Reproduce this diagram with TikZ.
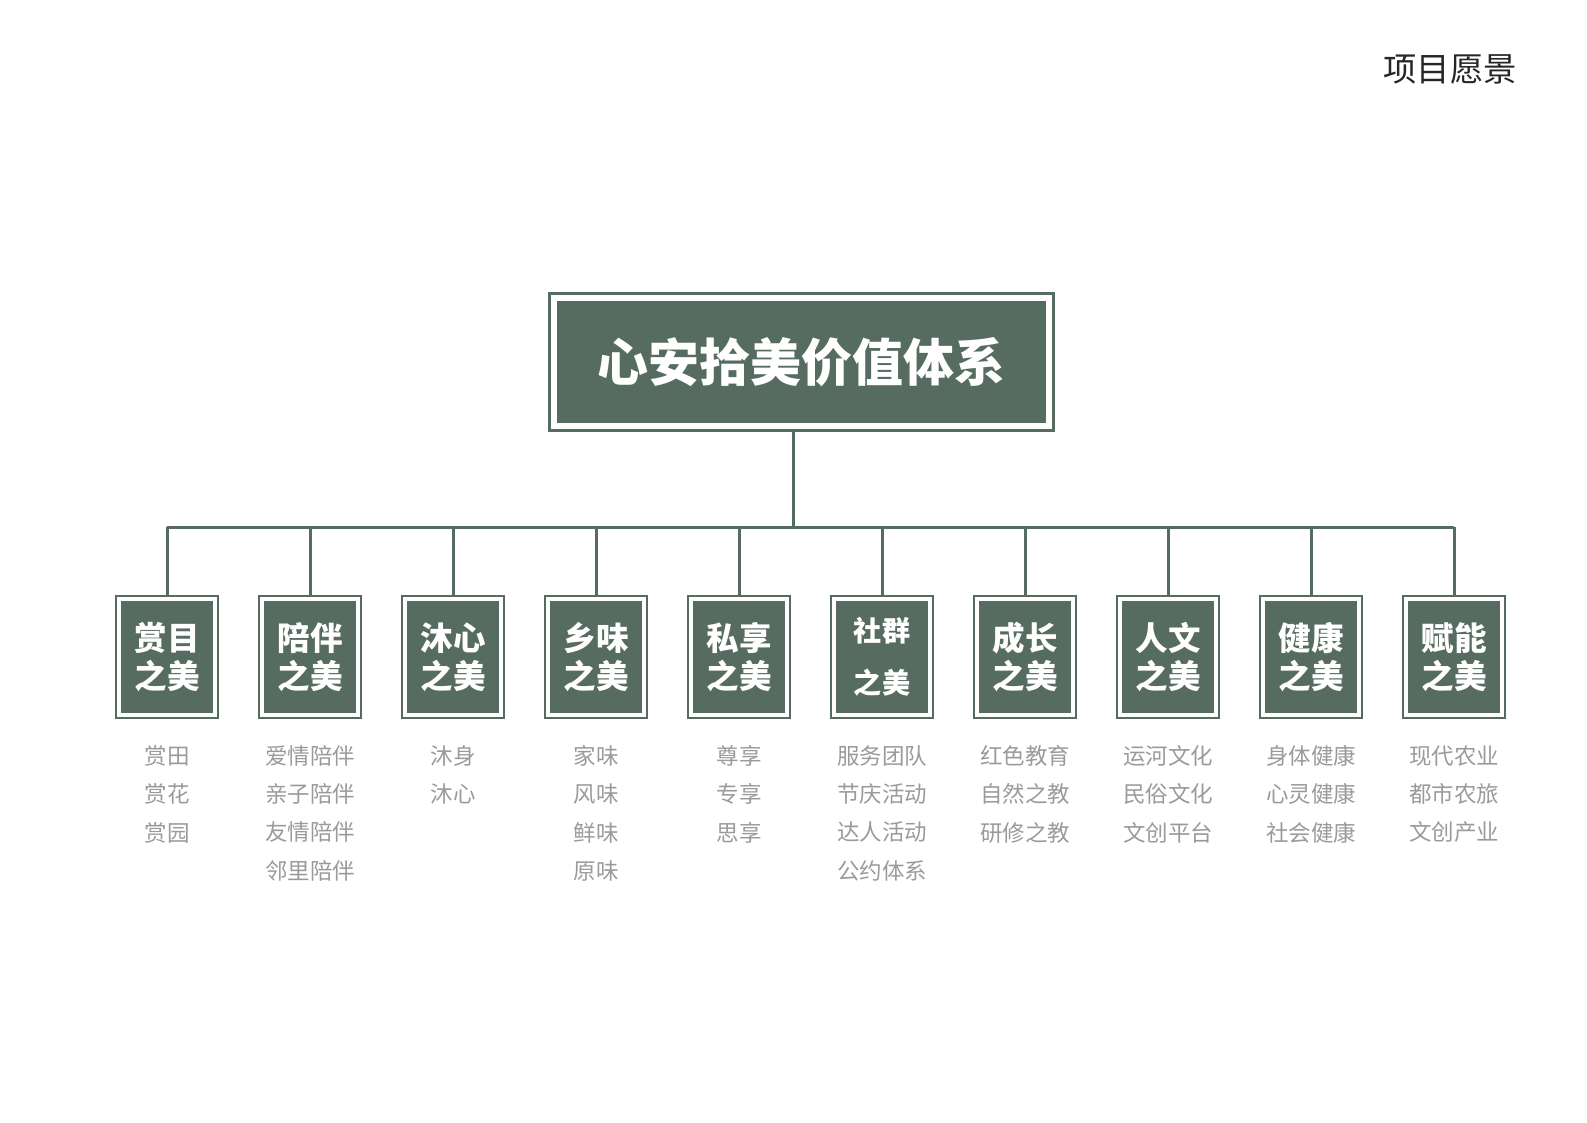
\documentclass[tikz,border=0pt]{standalone}
\usepackage{fontspec}
\setmainfont{Noto Sans CJK SC}
\usepackage{tikz}
\definecolor{sage}{HTML}{576C60}
\definecolor{listgray}{HTML}{9A9A9A}

\begin{document}
\begin{tikzpicture}[x=0.02cm,y=-0.02cm,
    framebox/.style={draw=sage,fill=sage,double=white,inner sep=0pt},
    headbox/.style={framebox,line width=0.05cm,double distance=0.12cm,
      minimum width=9.92cm,minimum height=2.58cm,outer sep=0.11cm,
      text=white,font=\bfseries\fontsize{29}{34}\selectfont},
    kidbox/.style={framebox,line width=0.04cm,double distance=0.08cm,
      minimum width=1.92cm,minimum height=2.32cm,outer sep=0.08cm,
      text=white,align=center,font=\bfseries\fontsize{18.5}{21.8}\selectfont},
    widekid/.style={kidbox,font=\bfseries\fontsize{16}{29.8}\selectfont},
    itemlist/.style={anchor=north,inner sep=0pt,align=center,text=listgray,
      font=\fontsize{12.8}{21.8}\selectfont},
    link/.style={draw=sage,line width=0.06cm}]
  \useasboundingbox (0,0) rectangle (1587,1123);
  % title in the corner
  \node[text=black!85,font=\fontsize{19}{22}\selectfont] (caption) at (1450,69) {项目愿景};
  % root box
  \node[headbox] (root) at (801.5,362) {心安拾美价值体系};
  \coordinate (hub) at (793,527);
  \draw[link] (root.south -| hub) -- (hub);
  % the ten branches
  \foreach \i/\nm/\lst/\sty in {
      0/{赏目\\之美}/{赏田\\赏花\\赏园}/kidbox,
      1/{陪伴\\之美}/{爱情陪伴\\亲子陪伴\\友情陪伴\\邻里陪伴}/kidbox,
      2/{沐心\\之美}/{沐身\\沐心}/kidbox,
      3/{乡味\\之美}/{家味\\风味\\鲜味\\原味}/kidbox,
      4/{私享\\之美}/{尊享\\专享\\思享}/kidbox,
      5/{社群\\之美}/{服务团队\\节庆活动\\达人活动\\公约体系}/widekid,
      6/{成长\\之美}/{红色教育\\自然之教\\研修之教}/kidbox,
      7/{人文\\之美}/{运河文化\\民俗文化\\文创平台}/kidbox,
      8/{健康\\之美}/{身体健康\\心灵健康\\社会健康}/kidbox,
      9/{赋能\\之美}/{现代农业\\都市农旅\\文创产业}/kidbox}{
    \node[\sty] (kid\i) at (167+143*\i,657) {\nm};
    \node[itemlist] (items\i) at (167+143*\i,745) {\lst};
    \draw[link] (kid\i.north) -- (kid\i.north |- hub);
  }
  \draw[link] (kid0.north |- hub) -- (kid9.north |- hub);
\end{tikzpicture}
\end{document}
